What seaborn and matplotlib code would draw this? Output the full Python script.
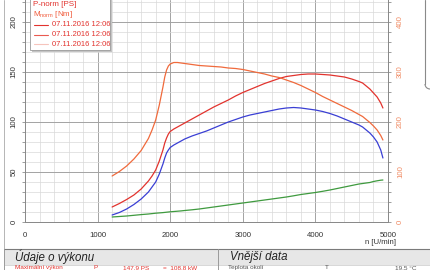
import numpy as np
import pandas as pd
import matplotlib
matplotlib.use("Agg")
import matplotlib.pyplot as plt
import seaborn as sns
from matplotlib.patches import Rectangle, Arc
from matplotlib.lines import Line2D
from matplotlib.ticker import MultipleLocator

# ---------------- data ----------------
rpm = [1200, 1300, 1400, 1500, 1600, 1700, 1750, 1800, 1850, 1900, 1925, 1950,
       1975, 2000, 2050, 2100, 2150, 2200, 2300, 2400, 2500, 2600, 2700, 2800,
       2900, 3000, 3100, 3200, 3300, 3400, 3500, 3600, 3700, 3800, 3900, 4000,
       4100, 4200, 4300, 4400, 4500, 4600, 4650, 4700, 4750, 4800, 4850, 4900,
       4930]
torque_nm = [92, 101, 112, 126, 143, 167, 184, 204, 234, 270, 290, 304,
             312, 316, 319, 319, 318, 317, 315, 313, 312, 311, 310, 308,
             307, 305, 302, 299, 296, 292, 289, 284, 279, 273, 266, 259,
             251, 244, 237, 230, 223, 215, 211, 205, 199, 192, 184, 173,
             164]
power_ps = [15, 18.5, 22.5, 27, 33, 41, 46, 52, 61, 72, 79, 84,
            88, 90.5, 93, 95, 97, 99, 103, 107, 111, 115, 118.5, 122,
            126, 129.5, 132.5, 135.5, 138.5, 141, 143.5, 145.5, 146.5, 147.5, 148, 148,
            147.5, 147, 146, 145, 143, 140.5, 139, 136, 133, 129, 125, 119,
            114]
wheel_ps = [7, 9.5, 13, 17.5, 23, 30, 35, 40, 48, 58, 64, 69,
            72, 74.5, 77, 79, 81, 83, 86, 88.5, 91, 94, 97, 100,
            102.5, 105, 107, 108.5, 110, 111.5, 113, 114, 114.5, 114, 113, 112,
            110.5, 108.5, 106, 103, 100, 97, 95, 92, 89, 85, 80, 72,
            64]
loss_ps = [5, 5.5, 6, 6.7, 7.4, 8, 8.4, 8.8, 9.1, 9.4, 9.6, 9.8,
           10, 10.2, 10.5, 10.8, 11.1, 11.5, 12.2, 13, 14, 15, 16, 17,
           18, 19, 20, 21, 22, 23, 24, 25, 26.2, 27.5, 28.5, 29.5,
           30.7, 32, 33.5, 35, 36.5, 38, 38.5, 39, 39.5, 40.5, 41.2, 41.8,
           42]

xticks = [0, 1000, 2000, 3000, 4000, 5000]
left_ticks = [0, 50, 100, 150, 200]
right_ticks = [0, 100, 200, 300, 400]
legend_title1 = "P-norm [PS]"
legend_title2 = r"M$_{\mathregular{norm}}$ [Nm]"
legend_entries = ["07.11.2016 12:06", "07.11.2016 12:06", "07.11.2016 12:06"]

df = pd.DataFrame({"rpm": rpm, "power": power_ps, "wheel": wheel_ps,
                   "loss": loss_ps, "torque": torque_nm})

# ---------------- style ----------------
sns.set_style("white")
plt.rcParams["font.family"] = ["Liberation Sans", "DejaVu Sans"]

W, H = 430, 270
fig = plt.figure(figsize=(W / 100, H / 100), dpi=100)


def fx(x):
    return x / W


def fy(y):
    return 1 - y / H


RED = "#e2332e"
BLUE = "#3a3fd4"
ORANGE = "#f06a3c"
GREEN = "#3f9a3f"
ORANGE_TXT = "#f08a62"

ax = fig.add_axes([fx(25), fy(222), fx(388) - fx(25), fy(0) - fy(222)])
ax2 = ax.twinx()

ax.set_xlim(0, 5000)
ax.set_ylim(0, 222)
ax2.set_ylim(0, 444)

ax.xaxis.set_major_locator(MultipleLocator(1000))
ax.xaxis.set_minor_locator(MultipleLocator(200))
ax.yaxis.set_major_locator(MultipleLocator(50))
ax.yaxis.set_minor_locator(MultipleLocator(10))
ax2.yaxis.set_major_locator(MultipleLocator(100))
ax2.yaxis.set_minor_locator(MultipleLocator(20))

ax.grid(which="minor", color="#d9d9d9", lw=0.5)
ax.grid(which="major", color="#a3a3a3", lw=0.7)
ax.set_axisbelow(True)

for a in (ax, ax2):
    for s in a.spines.values():
        s.set_color("#8a8a8a")
        s.set_linewidth(0.7)
ax.spines["top"].set_visible(False)
ax2.spines["top"].set_visible(False)

ax.set_xticks(xticks)
ax.set_yticks(left_ticks)
ax2.set_yticks(right_ticks)
ax.tick_params(axis="both", which="both", direction="out", length=2.5,
               width=0.5, color="#777777", labelsize=5.6, labelcolor="#333333")
ax.tick_params(axis="x", pad=5)
ax.tick_params(axis="y", pad=3)
for lab in ax.get_yticklabels():
    lab.set_rotation(90)
    lab.set_va("center")
ax2.tick_params(axis="y", which="both", direction="out", length=2.5,
                width=0.5, color="#777777", labelsize=5.6,
                labelcolor=ORANGE_TXT, pad=4)
for lab in ax2.get_yticklabels():
    lab.set_rotation(90)
    lab.set_va("center")

# curves
sns.lineplot(data=df, x="rpm", y="loss", ax=ax, color=GREEN, lw=0.9)
sns.lineplot(data=df, x="rpm", y="wheel", ax=ax, color=BLUE, lw=0.9)
sns.lineplot(data=df, x="rpm", y="power", ax=ax, color=RED, lw=0.9)
sns.lineplot(data=df, x="rpm", y="torque", ax=ax2, color=ORANGE, lw=0.9)
ax.set_xlabel("")
ax.set_ylabel("")
ax2.set_ylabel("")

fig.text(fx(365), fy(243), "n [U/min]", fontsize=5.6, color="#333333",
         ha="left", va="center")

# ---------------- legend box ----------------
fig.add_artist(Rectangle((fx(32), fy(52)), fx(80), fy(-5) - fy(52),
                         transform=fig.transFigure, facecolor="#c4c4c4",
                         edgecolor="none", zorder=9))
fig.add_artist(Rectangle((fx(30), fy(50)), fx(80), fy(-5) - fy(50),
                         transform=fig.transFigure, facecolor="white",
                         edgecolor="#9a9a9a", lw=0.6, zorder=10))
leg_fs = 5.5
fig.text(fx(33), fy(4.5), legend_title1, fontsize=leg_fs + 0.3, color=RED,
         va="center", ha="left", zorder=11)
fig.text(fx(33), fy(14.5), legend_title2, fontsize=leg_fs + 0.3,
         color="#f05a3a", va="center", ha="left", zorder=11)
line_cols = [RED, "#ea5a50", "#f6c4bc"]
for i, (txt, lc) in enumerate(zip(legend_entries, line_cols)):
    yy = 25 + i * 9.5
    fig.add_artist(Line2D([fx(34), fx(48)], [fy(yy), fy(yy)],
                          transform=fig.transFigure, color=lc, lw=0.8,
                          zorder=11))
    fig.text(fx(52), fy(yy), txt, fontsize=leg_fs, color=RED, va="center",
             ha="left", zorder=11)

# ---------------- frame decorations ----------------
fig.add_artist(Line2D([fx(4), fx(4)], [fy(0), fy(249)],
                      transform=fig.transFigure, color="#b5b5b5", lw=0.7))
fig.add_artist(Line2D([fx(425), fx(425)], [fy(0), fy(84)],
                      transform=fig.transFigure, color="#8a8a8a", lw=0.8))
fig.add_artist(Arc((430, H - 84), 10, 10, theta1=180, theta2=270,
                   transform=None, color="#8a8a8a", lw=0.8))

# ---------------- bottom info panel ----------------
fig.add_artist(Rectangle((fx(4), fy(265)), fx(426), fy(249) - fy(265),
                         transform=fig.transFigure, facecolor="#e7e7e7",
                         edgecolor="none", zorder=2))
fig.add_artist(Line2D([fx(4), fx(430)], [fy(249), fy(249)],
                      transform=fig.transFigure, color="#7a7a7a", lw=0.8))
fig.add_artist(Line2D([fx(4), fx(430)], [fy(265), fy(265)],
                      transform=fig.transFigure, color="#c8c8c8", lw=0.5))
fig.add_artist(Line2D([fx(4), fx(4)], [fy(249), fy(270)],
                      transform=fig.transFigure, color="#9a9a9a", lw=0.7))
fig.add_artist(Line2D([fx(218), fx(218)], [fy(249), fy(270)],
                      transform=fig.transFigure, color="#9a9a9a", lw=0.7))
fig.text(fx(15), fy(257), "Údaje o výkonu", fontsize=8.3, style="italic",
         color="#222222", ha="left", va="center", zorder=3)
fig.text(fx(230), fy(257), "Vnější data", fontsize=8.3, style="italic",
         color="#222222", ha="left", va="center", zorder=3)

row_y = fy(269.8)
row_fs = 4.6
fig.text(fx(15), row_y, "Maximální výkon", fontsize=row_fs,
         color=RED, ha="left", va="bottom")
fig.text(fx(93), row_y, "P", fontsize=row_fs, color=RED, ha="left",
         va="bottom")
fig.text(fx(123), row_y, "147,9 PS", fontsize=row_fs, color=RED,
         ha="left", va="bottom")
fig.text(fx(163), row_y, "=  108,8 kW", fontsize=row_fs, color=RED,
         ha="left", va="bottom")
fig.text(fx(228), row_y, "Teplota okolí", fontsize=row_fs, color="#555555",
         ha="left", va="bottom")
fig.text(fx(325), row_y, "T", fontsize=row_fs, color="#555555",
         ha="left", va="bottom")
fig.text(fx(395), row_y, "19,5 °C", fontsize=row_fs, color="#555555",
         ha="left", va="bottom")

fig.savefig("out.png", dpi=100)
